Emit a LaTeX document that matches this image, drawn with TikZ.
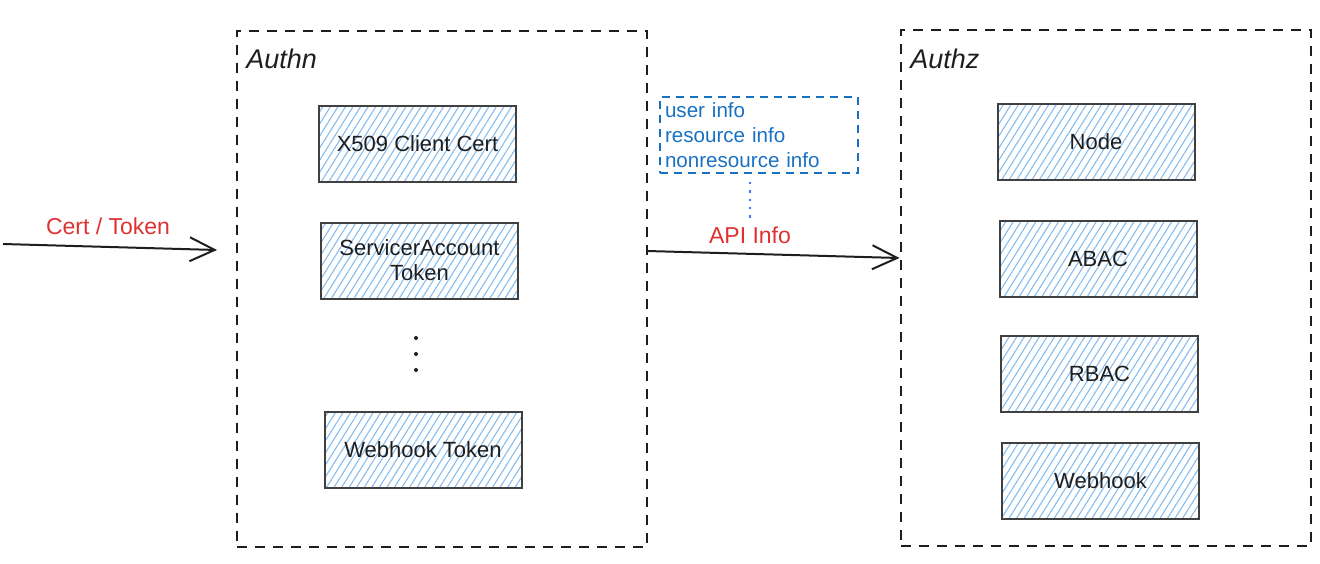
\documentclass[tikz,border=0pt]{standalone}
\usepackage{fontspec}
\setmainfont{Liberation Sans}
\usetikzlibrary{arrows.meta,patterns.meta}
\definecolor{ink}{HTML}{1E1E1E}
\definecolor{hatch}{HTML}{86BCEE}
\definecolor{infoblue}{HTML}{1971C2}
\definecolor{redtxt}{HTML}{E03131}
\definecolor{dotblue}{HTML}{4C6EF5}
\begin{document}
\begin{tikzpicture}[x=0.5pt,y=-0.5pt,
  group/.style={draw=ink, line width=1pt, dash pattern=on 5pt off 4pt,
    minimum width=205pt, minimum height=258pt, inner sep=0pt},
  grouptitle/.style={anchor=north west, font=\fontsize{13.5}{15}\selectfont\itshape, text=ink, inner sep=0pt},
  compbox/.style={draw=ink!85, line width=1pt,
    pattern={Lines[angle=58, distance=3.2pt, line width=0.55pt]}, pattern color=hatch,
    minimum width=98.5pt, minimum height=38pt, align=center,
    font=\fontsize{11}{12.5}\selectfont, text=ink, inner sep=2pt},
  infobox/.style={draw=infoblue, line width=0.8pt, dash pattern=on 4pt off 3pt,
    minimum width=98pt, minimum height=38pt, align=left, text width=94pt,
    font=\fontsize{10.3}{12.5}\selectfont, text=infoblue, inner sep=2.5pt},
  redlabel/.style={text=redtxt, font=\fontsize{11.5}{13}\selectfont, inner sep=1pt},
  arr/.style={draw=ink, line width=1pt, -{Straight Barb[length=12.5pt, width=12pt, line width=1pt]}},
  dotline/.style={draw=dotblue, line width=1pt, dash pattern=on 1.2pt off 3pt}
]
\useasboundingbox (0,0) rectangle (1320,563);

% groups
\node[group] (authn) at (441.5,288.5) {};
\node[group] (authz) at (1105.5,288) {};
\node[grouptitle] (authntitle) at (246,49) {Authn};
\node[grouptitle] (authztitle) at (910,49) {Authz};

% authn components
\node[compbox] (x509) at (417.5,143.5) {X509 Client Cert};
\node[compbox] (sat) at (419.5,260.5) {ServicerAccount\\Token};
\node[inner sep=0pt, minimum size=1pt] (dots) at (416,354) {};
\foreach \dy in {-16,0,16} \fill[ink] ([yshift=-\dy*0.5pt]dots.center) circle (1pt);
\node[compbox] (wht) at (423,450) {Webhook Token};

% authz components
\node[compbox] (nodeb) at (1096,142) {Node};
\node[compbox] (abac) at (1098,258.5) {ABAC};
\node[compbox] (rbac) at (1099.5,373.5) {RBAC};
\node[compbox] (webhook) at (1100.5,480.5) {Webhook};

% info box
\node[infobox] (info) at (759,135) {user info\\resource info\\nonresource info};

% labels
\node[redlabel] (certlabel) at (108,226) {Cert / Token};
\node[redlabel] (apilabel) at (750,235) {API Info};

% connectors
\coordinate (src) at (3,244);
\coordinate (srcend) at (217,250);
\draw[arr] (src) -- (srcend);
\draw[arr] (authn.east |- 0,251) -- (authz.west |- 0,258);
\draw[dotline] ([yshift=-4pt]info.south -| apilabel.north) -- ([yshift=3pt]apilabel.north);
\end{tikzpicture}
\end{document}
